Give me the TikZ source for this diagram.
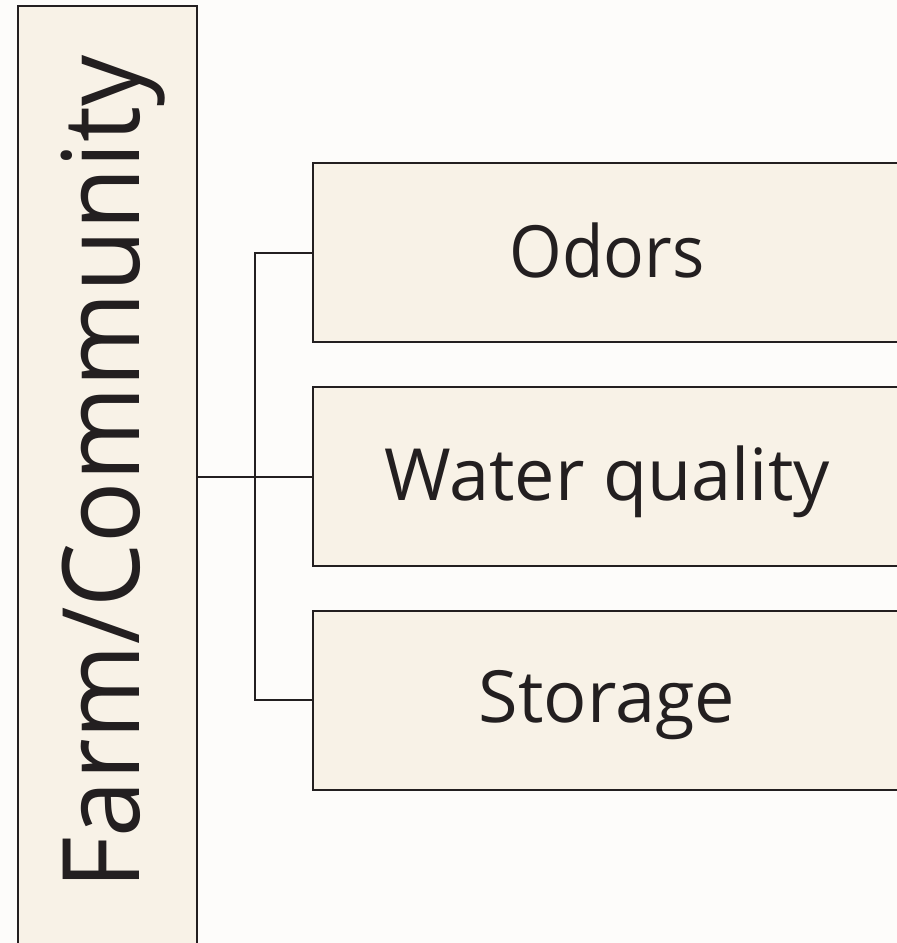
\documentclass[tikz,border=0pt]{standalone}
\usepackage{fontspec}
\setmainfont{Open Sans}
\definecolor{bg}{HTML}{FDFCFA}
\definecolor{boxfill}{HTML}{F8F2E7}
\definecolor{ink}{HTML}{231F20}
\begin{document}
\begin{tikzpicture}[x=1pt,y=-1pt,
  box/.style={draw=ink,line width=2pt,fill=boxfill,inner sep=0pt},
  lbl/.style={text=ink,font=\fontsize{72}{72}\selectfont,inner sep=0pt,anchor=base},
  conn/.style={draw=ink,line width=2pt}]
\useasboundingbox (0,0) rectangle (897,943);
\fill[bg] (0,0) rectangle (897,943);
\clip (0,0) rectangle (897,943);
\node[box,anchor=north west,minimum width=179pt,minimum height=960pt] (fc) at (17,5) {};
\node[text=ink,inner sep=0pt,anchor=base,rotate=90,font=\fontsize{107}{107}\selectfont] (fctext) at (139,472.5) {\scalebox{0.95}[1]{Farm/Community}};
\node[box,minimum width=588pt,minimum height=179pt] (odors) at (607,252.5) {};
\node[box,minimum width=588pt,minimum height=179pt] (water) at (607,476.5) {};
\node[box,minimum width=588pt,minimum height=179pt] (storage) at (607,700) {};
\node[lbl] (odt) at (607,277) {\scalebox{0.94}[1]{Odors}};
\node[lbl] (wqt) at (607,500) {Water quality};
\node[lbl] (stt) at (607,722) {Storage};
\coordinate (bus) at (255,477);
\draw[conn] (fc.east |- water.west) -- (water.west);
\draw[conn] (odors.west) -| (bus) |- (storage.west);
\end{tikzpicture}
\end{document}
